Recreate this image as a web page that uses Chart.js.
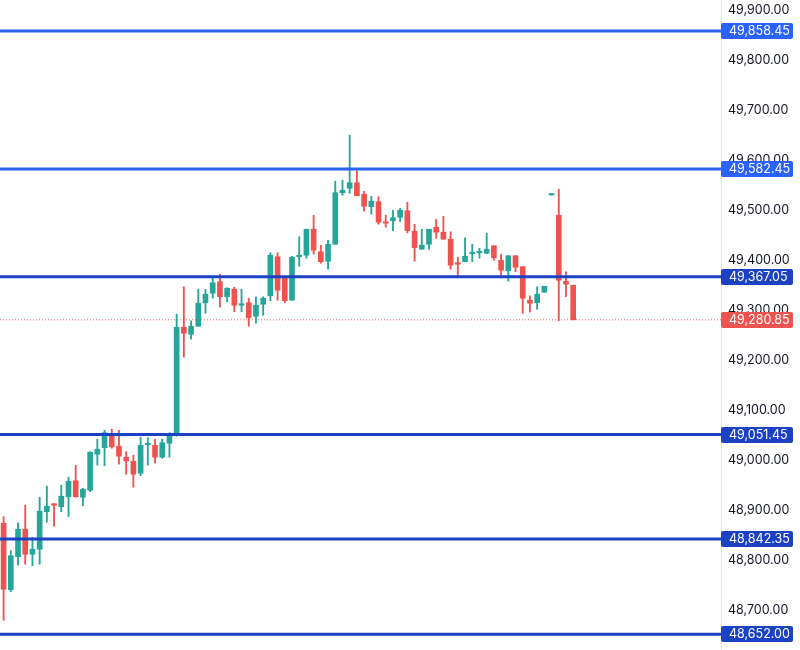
<!DOCTYPE html>
<html>
<head>
<meta charset="utf-8">
<title>Candles</title>
<script src="https://cdn.jsdelivr.net/npm/chart.js@4.4.1/dist/chart.umd.min.js"></script>
<style>
  html, body { margin: 0; padding: 0; background: #ffffff; }
  #wrap { width: 800px; height: 650px; }
</style>
</head>
<body>
<div id="wrap"><canvas id="graf" width="800" height="650"></canvas></div>
<script>
// OHLC, one entry per candle
const opens = [
    48874, 48741, 48807, 48862, 48812, 48822, 48897, 48912, 48907, 48927,
    48959, 48926, 48940, 49012, 49025, 49048, 49028, 49006, 48998, 48974,
    49031, 49030, 49006, 49034, 49050, 49266, 49252, 49268, 49315, 49334,
    49357, 49327, 49342, 49310, 49315, 49288, 49312, 49329, 49407, 49364,
    49320, 49407, 49410, 49462, 49417, 49398, 49432, 49535, 49544, 49555,
    49532, 49507, 49517, 49477, 49479, 49486, 49499, 49458, 49422, 49432,
    49466, 49456, 49442, 49395, 49397, 49413, 49415, 49414, 49429, 49400,
    49379, 49409, 49387, 49320, 49315, 49336, 49530.5, 49490, 49358, 49350
];
const highs = [
    48887, 48819, 48875, 48910, 48846, 48926, 48948, 48913, 48950, 48966,
    48990, 48944, 49017, 49042, 49060, 49062, 49060, 49017, 49010, 49046,
    49045, 49042, 49042, 49055, 49292, 49347, 49279, 49342, 49342, 49364,
    49372, 49345, 49346, 49342, 49324, 49327, 49327, 49415, 49415, 49365,
    49408, 49447, 49462, 49490, 49430, 49440, 49558, 49560, 49650, 49579,
    49538, 49528, 49527, 49490, 49500, 49504, 49516, 49472, 49462, 49462,
    49482, 49488, 49457, 49406, 49445, 49432, 49424, 49454, 49429, 49412,
    49409, 49409, 49387, 49329, 49347, 49348, 49532, 49542, 49377, 49350
];
const lows = [
    48680, 48737, 48790, 48792, 48789, 48792, 48876, 48868, 48897, 48887,
    48926, 48909, 48937, 48990, 48989, 49024, 48992, 48972, 48946, 48969,
    48990, 48994, 49004, 49006, 49048, 49206, 49242, 49268, 49294, 49324,
    49306, 49317, 49297, 49297, 49268, 49274, 49290, 49319, 49320, 49315,
    49320, 49388, 49404, 49412, 49394, 49382, 49432, 49530, 49534, 49529,
    49498, 49492, 49472, 49466, 49459, 49477, 49455, 49398, 49422, 49422,
    49444, 49442, 49382, 49367, 49397, 49397, 49404, 49413, 49400, 49368,
    49358, 49377, 49294, 49296, 49302, 49336, 49530, 49279, 49327, 49281
];
const closes = [
    48742, 48809, 48862, 48812, 48822, 48898, 48908, 48910, 48928, 48958,
    48927, 48942, 49016, 49022, 49055, 49027, 49008, 48999, 48972, 49030,
    49034, 49006, 49035, 49048, 49266, 49254, 49268, 49314, 49332, 49355,
    49327, 49344, 49310, 49312, 49285, 49310, 49324, 49410, 49340, 49319,
    49406, 49410, 49462, 49420, 49397, 49432, 49535, 49540, 49555, 49529,
    49508, 49518, 49476, 49474, 49485, 49500, 49459, 49425, 49430, 49462,
    49456, 49442, 49390, 49392, 49408, 49415, 49417, 49422, 49405, 49380,
    49409, 49386, 49324, 49314, 49332, 49348, 49531.5, 49360, 49352, 49280.85
];

// slots on the time axis (the right part stays empty)
const slotCount = 100;

// horizontal levels and the last price
const levelsLight = [49858.45, 49582.45];
const levelsDark = [49367.05, 49051.45, 48842.35, 48652.00];
const lastPrice = 49280.85;

const tickValues = [48700, 48800, 48900, 49000, 49100, 49200, 49300, 49400, 49500, 49600, 49700, 49800, 49900];
const yMin = 48620.45;
const yMax = 49920.45;

const UP = "#26a69a";
const DOWN = "#ef5350";
const BLUE_LIGHT = "#2962ff";
const BLUE_DARK = "#1c42c4";
const FONT = "Inter, 'Noto Sans', sans-serif";

const labels = [];
for (let i = 0; i < slotCount; i++) labels.push("t" + i);

const wickData = labels.map((_, i) => i < opens.length ? [lows[i], highs[i]] : null);
const bodyData = labels.map((_, i) => i < opens.length ? [opens[i], closes[i]] : null);
const candleColor = ctx => {
    const i = ctx.dataIndex;
    return closes[i] >= opens[i] ? UP : DOWN;
};

const fmt = v => v.toLocaleString("en-US", { minimumFractionDigits: 2, maximumFractionDigits: 2 });

function levelLine(value, color, width, dash) {
    return {
        type: "line",
        xAxisID: "xl",
        data: [{ x: 0, y: value }, { x: 1, y: value }],
        borderColor: color,
        borderWidth: width,
        borderDash: dash || [],
        pointRadius: 0,
        order: 0
    };
}

// boxes with the level values on the price axis
const priceTags = {
    id: "priceTags",
    afterDraw(chart) {
        const c = chart.ctx;
        const y = chart.scales.y;
        const tags = [];
        levelsLight.forEach(v => tags.push({ v, color: BLUE_LIGHT }));
        levelsDark.forEach(v => tags.push({ v, color: BLUE_DARK }));
        tags.push({ v: lastPrice, color: DOWN });
        c.save();
        c.font = "12.5px " + FONT;
        c.textBaseline = "middle";
        c.textAlign = "left";
        tags.forEach(t => {
            const py = Math.round(y.getPixelForValue(t.v));
            c.fillStyle = t.color;
            c.beginPath();
            c.roundRect(y.left, py - 8, 72, 16, 2);
            c.fill();
            c.fillStyle = "#ffffff";
            c.fillText(fmt(t.v), y.left + 8, py + 0.5);
        });
        c.restore();
    }
};

const datasets = [];
levelsLight.forEach(v => datasets.push(levelLine(v, BLUE_LIGHT, 3)));
levelsDark.forEach(v => datasets.push(levelLine(v, BLUE_DARK, 3)));
datasets.push(levelLine(lastPrice, "rgba(239, 83, 80, 0.9)", 1, [1, 2]));
datasets.push({
    label: "wick",
    data: wickData,
    backgroundColor: candleColor,
    barThickness: 1.2,
    grouped: false,
    order: 2
});
datasets.push({
    label: "body",
    data: bodyData,
    backgroundColor: candleColor,
    barThickness: 5,
    minBarLength: 1.5,
    grouped: false,
    order: 1
});

new Chart(document.getElementById("graf"), {
    type: "bar",
    data: { labels, datasets },
    plugins: [priceTags],
    options: {
        responsive: false,
        animation: false,
        layout: { padding: 0 },
        plugins: {
            legend: { display: false },
            tooltip: { enabled: false }
        },
        scales: {
            x: {
                type: "category",
                display: false,
                offset: true
            },
            xl: {
                type: "linear",
                display: false,
                offset: false,
                min: 0,
                max: 1
            },
            y: {
                position: "right",
                min: yMin,
                max: yMax,
                grid: { display: false, drawTicks: false },
                border: { display: true, color: "#e0e3eb", width: 1 },
                ticks: {
                    padding: 7,
                    color: "#131722",
                    font: { family: FONT, size: 12.5 },
                    callback: v => fmt(v)
                },
                afterBuildTicks: s => { s.ticks = tickValues.map(v => ({ value: v })); },
                afterFit: s => {
                    s.width = 79;
                    s.paddingTop = 0;
                    s.paddingBottom = 0;
                }
            }
        }
    }
});
</script>
</body>
</html>
